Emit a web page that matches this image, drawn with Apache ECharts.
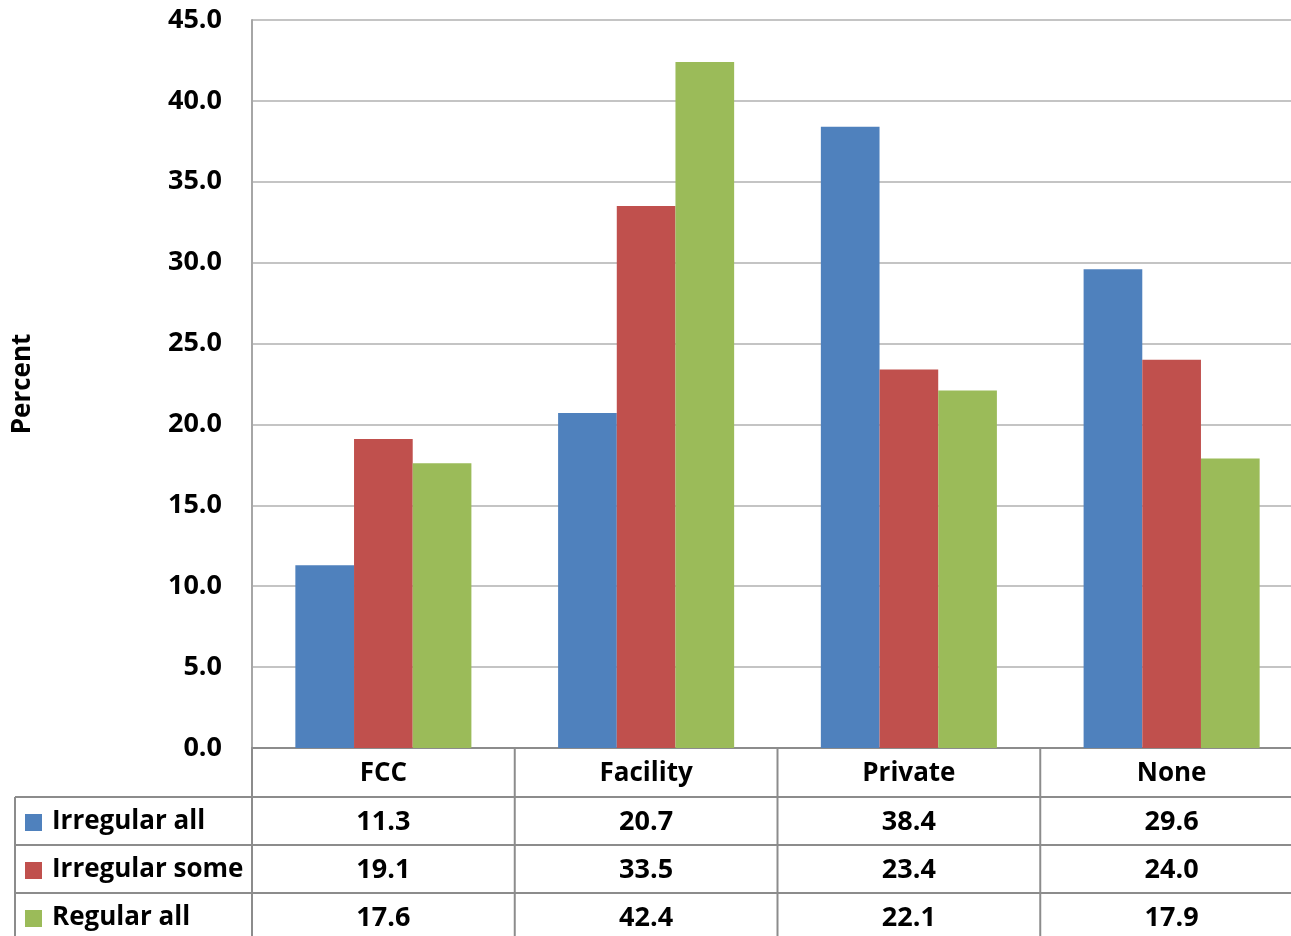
<!DOCTYPE html>
<html>
<head>
<meta charset="utf-8">
<script src="https://cdn.jsdelivr.net/npm/echarts@6/dist/echarts.min.js"></script>
<style>
  html, body { margin: 0; padding: 0; background: #fff; }
  #chart { width: 1291px; height: 936px; }
</style>
</head>
<body>
<div id="chart"></div>
<script>
// Care arrangement categories and percentage of each schedule type
const categories = ['FCC', 'Facility', 'Private', 'None'];
const seriesNames = ['Irregular all', 'Irregular some', 'Regular all'];
const irregularAll = [11.3, 20.7, 38.4, 29.6];
const irregularSome = [19.1, 33.5, 23.4, 24.0];
const regularAll = [17.6, 42.4, 22.1, 17.9];
const seriesColors = ['#4f81bd', '#c0504d', '#9bbb59'];
const yTicks = { min: 0, max: 45, interval: 5 };

const FONT = '"Open Sans", "Liberation Sans", sans-serif';
const FS_NUM = 27;
const FS_WORD = 26;
const TABLE_LINE = '#8c8c8c';
const rows = [irregularAll, irregularSome, regularAll];

const chart = echarts.init(document.getElementById('chart'));

const option = {
  animation: false,
  backgroundColor: '#fff',
  grid: { left: 252, top: 20, width: 1051, bottom: 188, containLabel: false, outerBoundsMode: 'none' },
  xAxis: {
    type: 'category',
    data: categories,
    axisLine: { lineStyle: { color: TABLE_LINE, width: 2 } },
    axisTick: { show: false },
    axisLabel: { show: false }
  },
  yAxis: {
    type: 'value',
    min: yTicks.min, max: yTicks.max, interval: yTicks.interval,
    name: 'Percent',
    nameLocation: 'middle',
    nameGap: 216,
    nameRotate: 90,
    nameTextStyle: { fontFamily: FONT, fontWeight: 'bold', fontSize: FS_WORD, color: '#000' },
    axisLine: { show: true, lineStyle: { color: '#a6a6a6', width: 2 } },
    axisTick: { show: false },
    axisLabel: {
      margin: 30,
      formatter: v => v.toFixed(1),
      fontFamily: FONT, fontWeight: 'bold', fontSize: FS_NUM, color: '#000'
    },
    splitLine: { lineStyle: { color: '#c4c4c4', width: 2 } }
  },
  series: rows.map((d, i) => ({
    name: seriesNames[i],
    type: 'bar',
    data: d,
    barGap: '0%',
    barCategoryGap: '33%',
    itemStyle: { color: seriesColors[i] }
  }))
};
chart.setOption(option);

// Data table under the plot: header row of categories, one row per series
function buildTable() {
  const g = [];
  const axisY = 748;
  const headerH = 49;
  const rowH = 48;
  const leftX = 15;
  const plotLeft = 252;
  const rightX = 1291;
  const bandW = chart.convertToPixel({ xAxisIndex: 0 }, categories[1]) -
                chart.convertToPixel({ xAxisIndex: 0 }, categories[0]);

  const line = (x1, y1, x2, y2) => g.push({
    type: 'line', silent: true,
    shape: { x1, y1, x2, y2 },
    style: { stroke: TABLE_LINE, lineWidth: 2 }
  });
  const text = (x, y, t, size, align) => g.push({
    type: 'text', silent: true, x, y,
    style: {
      text: t, fill: '#000', font: `bold ${size}px ${FONT}`,
      align: align || 'center', verticalAlign: 'middle'
    }
  });

  // horizontal rules
  for (let r = 0; r < rows.length; r++) {
    const y = axisY + headerH + r * rowH;
    line(leftX, y, rightX, y);
  }
  // vertical rules at category boundaries
  const bottomY = 936;
  line(plotLeft, axisY, plotLeft, bottomY);
  categories.forEach((c, i) => {
    const cx = chart.convertToPixel({ xAxisIndex: 0 }, c);
    const bx = cx + bandW / 2;
    if (i < categories.length - 1) line(bx, axisY, bx, bottomY);
    text(cx, axisY + headerH / 2 + 1, c, FS_WORD);
  });
  // left legend column
  line(leftX, axisY + headerH, leftX, bottomY);

  rows.forEach((d, r) => {
    const cy = axisY + headerH + r * rowH + rowH / 2 + 1;
    g.push({
      type: 'rect', silent: true,
      shape: { x: 25, y: cy - 8, width: 17, height: 17 },
      style: { fill: seriesColors[r] }
    });
    text(52, cy, seriesNames[r], FS_WORD, 'left');
    d.forEach((v, i) => {
      const cx = chart.convertToPixel({ xAxisIndex: 0 }, categories[i]);
      text(cx, cy, v.toFixed(1), FS_NUM);
    });
  });
  chart.setOption({ graphic: { elements: g } });
}
buildTable();
</script>
</body>
</html>
